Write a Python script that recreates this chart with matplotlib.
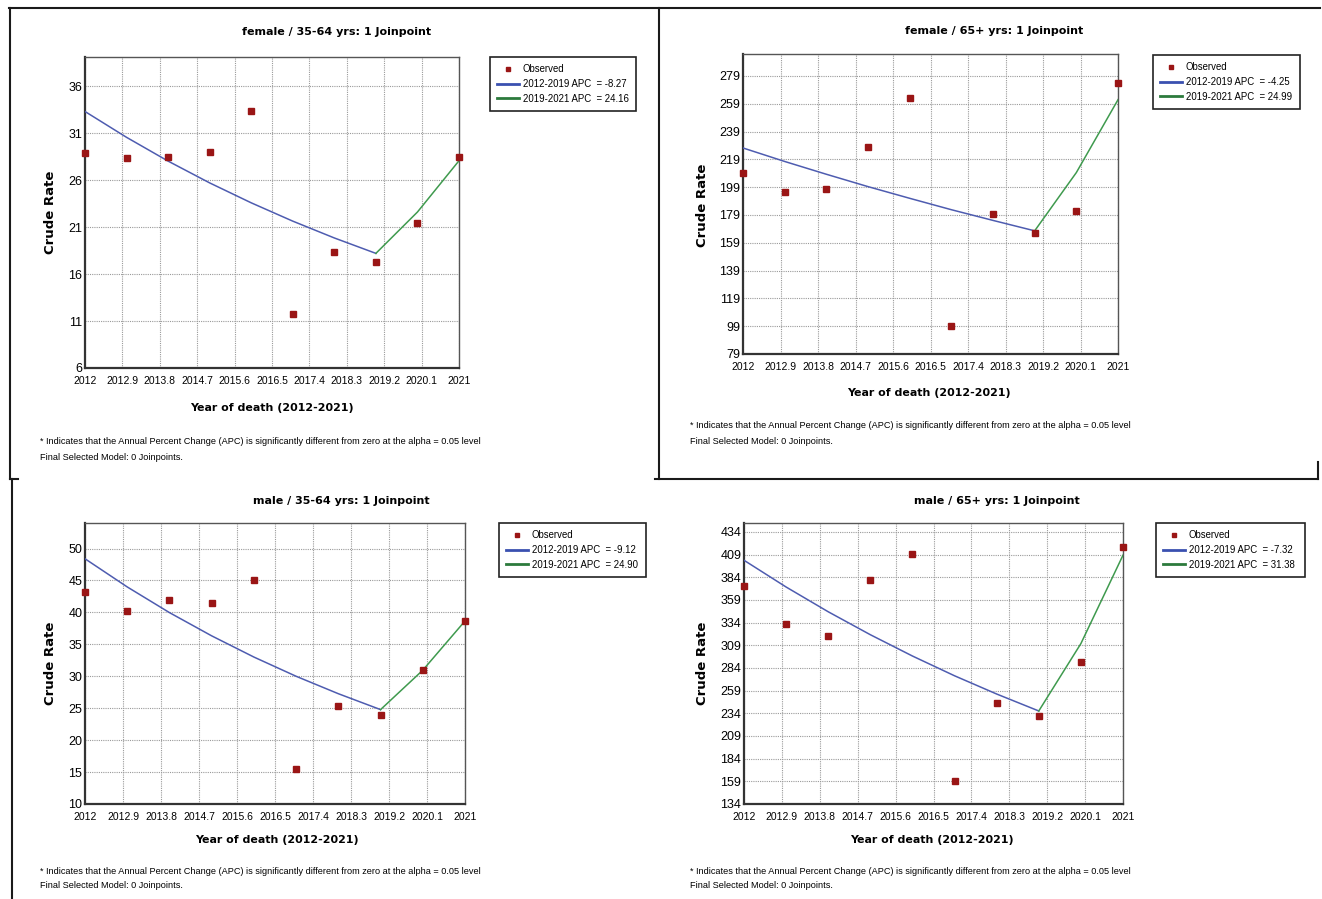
import matplotlib
matplotlib.use("Agg")
import matplotlib.pyplot as plt
from matplotlib.lines import Line2D

# observed crude rates and joinpoint fitted values
years = [2012, 2013, 2014, 2015, 2016, 2017, 2018, 2019, 2020, 2021]
fit1_years = [2012, 2013, 2014, 2015, 2016, 2017, 2018, 2019]
fit2_years = [2019, 2020, 2021]

f3564_obs = [28.9, 28.3, 28.5, 29.0, 33.4, 11.8, 18.3, 17.3, 21.4, 28.5]
f3564_fit1 = [33.3, 30.55, 28.02, 25.70, 23.58, 21.63, 19.84, 18.20]
f3564_fit2 = [18.20, 22.60, 28.06]

f65_obs = [209.0, 195.5, 198.0, 227.7, 263.4, 98.9, 179.9, 166.3, 182.1, 273.7]
f65_fit1 = [227.2, 217.5, 208.3, 199.4, 191.0, 182.8, 175.1, 167.6]
f65_fit2 = [167.6, 209.5, 261.9]

m3564_obs = [43.2, 40.2, 41.9, 41.5, 45.0, 15.5, 25.4, 23.9, 31.0, 38.7]
m3564_fit1 = [48.4, 43.99, 39.97, 36.33, 33.01, 30.00, 27.27, 24.78]
m3564_fit2 = [24.78, 30.95, 38.66]

m65_obs = [374.2, 332.4, 319.5, 381.5, 409.8, 158.9, 245.1, 231.5, 290.6, 417.5]
m65_fit1 = [402.8, 373.3, 346.0, 320.7, 297.2, 275.4, 255.3, 236.6]
m65_fit2 = [236.6, 310.9, 408.4]

xticks = [2012, 2012.9, 2013.8, 2014.7, 2015.6, 2016.5, 2017.4, 2018.3, 2019.2, 2020.1, 2021]
xtick_labels = ['2012', '2012.9', '2013.8', '2014.7', '2015.6', '2016.5',
                '2017.4', '2018.3', '2019.2', '2020.1', '2021']

W, H = 1322, 899
NARROW = ['Liberation Sans', 'DejaVu Sans']
MARK = '#9a1515'
BLUE = '#4e5cb0'
GREEN = '#3f9a4e'

panels = [
    dict(title='female / 35-64 yrs: 1 Joinpoint', obs=f3564_obs, fit1=f3564_fit1, fit2=f3564_fit2,
         yticks=[6, 11, 16, 21, 26, 31, 36], ylim=(6, 39.1),
         apc=['2012-2019 APC  = -8.27', '2019-2021 APC  = 24.16'],
         box=(85, 57, 459, 368), title_xy=(337, 32), xlab_xy=(272, 408), ylab_xy=(51, 212),
         note_xy=(40, 442), leg=(490, 57, 636, 115)),
    dict(title='female / 65+ yrs: 1 Joinpoint', obs=f65_obs, fit1=f65_fit1, fit2=f65_fit2,
         yticks=[79, 99, 119, 139, 159, 179, 199, 219, 239, 259, 279], ylim=(79, 294.8),
         apc=['2012-2019 APC  = -4.25', '2019-2021 APC  = 24.99'],
         box=(743, 54, 1118, 354), title_xy=(994, 31), xlab_xy=(929, 393), ylab_xy=(703, 205),
         note_xy=(690, 426), leg=(1153, 55, 1300, 111)),
    dict(title='male / 35-64 yrs: 1 Joinpoint', obs=m3564_obs, fit1=m3564_fit1, fit2=m3564_fit2,
         yticks=[10, 15, 20, 25, 30, 35, 40, 45, 50], ylim=(10, 54),
         apc=['2012-2019 APC  = -9.12', '2019-2021 APC  = 24.90'],
         box=(85, 523, 465, 804), title_xy=(341, 501), xlab_xy=(277, 840), ylab_xy=(51, 663),
         note_xy=(40, 871), leg=(499, 523, 646, 577)),
    dict(title='male / 65+ yrs: 1 Joinpoint', obs=m65_obs, fit1=m65_fit1, fit2=m65_fit2,
         yticks=[134, 159, 184, 209, 234, 259, 284, 309, 334, 359, 384, 409, 434], ylim=(134, 443.9),
         apc=['2012-2019 APC  = -7.32', '2019-2021 APC  = 31.38'],
         box=(744, 523, 1123, 804), title_xy=(997, 501), xlab_xy=(932, 840), ylab_xy=(702, 663),
         note_xy=(690, 871), leg=(1156, 523, 1305, 577)),
]


def fx(px):
    return px / W


def fy(py):
    return 1 - py / H


fig = plt.figure(figsize=(W / 100, H / 100), dpi=100)

for p in panels:
    x0, y0, x1, y1 = p['box']
    ax = fig.add_axes([fx(x0), fy(y1), (x1 - x0) / W, (y1 - y0) / H])
    ax.plot(fit1_years, p['fit1'], color=BLUE, lw=1.1, zorder=3)
    ax.plot(fit2_years, p['fit2'], color=GREEN, lw=1.1, zorder=3)
    ax.plot(years, p['obs'], 's', color=MARK, markersize=4.4, zorder=4, clip_on=False)
    ax.set_xlim(2012, 2021)
    ax.set_ylim(*p['ylim'])
    ax.set_xticks(xticks)
    ax.set_xticklabels(xtick_labels, family=NARROW, fontsize=7.5)
    ax.set_yticks(p['yticks'])
    ax.set_yticklabels([str(v) for v in p['yticks']], family=NARROW, fontsize=9)
    ax.tick_params(axis='x', length=0, pad=6)
    ax.tick_params(axis='y', length=0, pad=2)
    ax.grid(True, color='#9a9a9a', linestyle=(0, (1, 1)), linewidth=0.8)
    ax.set_axisbelow(True)
    for side in ['top', 'right']:
        ax.spines[side].set_color('#555555')
        ax.spines[side].set_linewidth(1.0)
    for side in ['left', 'bottom']:
        ax.spines[side].set_color('#333333')
        ax.spines[side].set_linewidth(1.6)

    fig.text(fx(p['title_xy'][0]), fy(p['title_xy'][1]), p['title'], ha='center', va='center',
             fontsize=8, fontweight='bold', family='DejaVu Sans')
    fig.text(fx(p['xlab_xy'][0]), fy(p['xlab_xy'][1]), 'Year of death (2012-2021)', ha='center',
             va='center', fontsize=7.9, fontweight='bold', family='DejaVu Sans')
    fig.text(fx(p['ylab_xy'][0]), fy(p['ylab_xy'][1]), 'Crude Rate', ha='center', va='center',
             rotation=90, fontsize=9.5, fontweight='bold', family='DejaVu Sans')
    nx, ny = p['note_xy']
    fig.text(fx(nx), fy(ny), '* Indicates that the Annual Percent Change (APC) is significantly '
             'different from zero at the alpha = 0.05 level', ha='left', va='center',
             fontsize=6.6, family=NARROW)
    fig.text(fx(nx), fy(ny + 15), 'Final Selected Model: 0 Joinpoints.', ha='left', va='center',
             fontsize=6.6, family=NARROW)

    # legend box
    lx0, ly0, lx1, ly1 = p['leg']
    handles = [Line2D([], [], marker='s', linestyle='none', color=MARK, markersize=3.5),
               Line2D([], [], color='#3a50b0', lw=2),
               Line2D([], [], color='#2c7a3c', lw=2)]
    leg = fig.legend(handles, ['Observed'] + p['apc'], loc='upper left',
                     bbox_to_anchor=(fx(lx0), fy(ly1), (lx1 - lx0) / W, (ly1 - ly0) / H),
                     mode='expand', fancybox=False, framealpha=1, edgecolor='#222222',
                     prop={'family': NARROW, 'size': 6.9}, handlelength=2.3, handletextpad=0.35,
                     labelspacing=0.5, borderpad=0.75, borderaxespad=0)
    leg.get_frame().set_linewidth(1.2)

# panel frame lines of the screenshot
frame = dict(color='#1a1a1a', lw=1.5, transform=fig.transFigure)
fig.add_artist(Line2D([fx(9), fx(1320)], [fy(8), fy(8)], **frame))
fig.add_artist(Line2D([fx(10), fx(10)], [fy(8), fy(479)], **frame))
fig.add_artist(Line2D([fx(12), fx(12)], [fy(479), fy(899)], **frame))
fig.add_artist(Line2D([fx(10), fx(18)], [fy(479), fy(479)], **frame))
fig.add_artist(Line2D([fx(659), fx(659)], [fy(8), fy(479)], **frame))
fig.add_artist(Line2D([fx(655), fx(1318)], [fy(479), fy(479)], **frame))
fig.add_artist(Line2D([fx(1318), fx(1318)], [fy(462), fy(479)], **frame))

fig.savefig('out.png', dpi=100)
